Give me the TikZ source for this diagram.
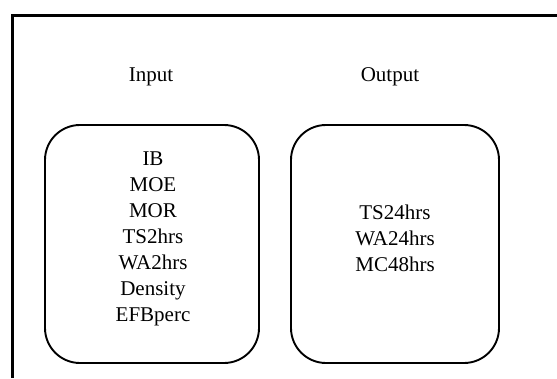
\documentclass[tikz,border=0pt]{standalone}
\usepackage{fontspec}
\setmainfont{Liberation Serif}
\tikzset{
  frame/.style={line width=3pt},
  groupbox/.style={draw, line width=1.9pt, rounded corners=35pt, minimum width=214pt, minimum height=238pt, inner sep=0pt},
  label/.style={font=\fontsize{21}{26}\selectfont, align=center, inner sep=0pt},
}
\begin{document}
\begin{tikzpicture}[x=1pt,y=-1pt]
\useasboundingbox (0,0) rectangle (557,378);
\fill[white] (0,0) rectangle (557,378);
\coordinate (fr) at (557,15.5);
\coordinate (fc) at (12,15.5);
\coordinate (fb) at (12,378);
\draw[frame] (fr) -- (fc) -- (fb);
\node[groupbox] (inbox) at (152,244) {};
\node[groupbox, minimum width=208pt] (outbox) at (395,244) {};
\node[label] (intitle) at (151,77) {Input};
\node[label] (outtitle) at (390,77) {Output};
\node[label] (intext) at (153,239) {IB\\MOE\\MOR\\TS2hrs\\WA2hrs\\Density\\EFBperc};
\node[label] (outtext) at (395,238) {TS24hrs\\WA24hrs\\MC48hrs};
\end{tikzpicture}
\end{document}
